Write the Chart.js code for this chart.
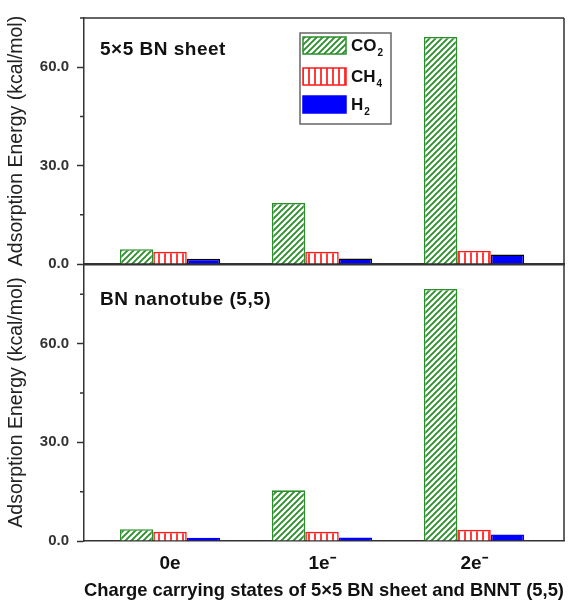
<!DOCTYPE html>
<html lang="en">
<head>
<meta charset="UTF-8">
<title>Adsorption energy vs charge state</title>
<style>
    body { margin: 0; background: #fff; }
    .wrap { position: relative; width: 569px; height: 606px; }
    .panel { position: absolute; left: 0; width: 569px; }
    #top { top: 0; height: 270px; }
    #bottom { top: 264px; height: 342px; }
</style>
</head>
<body>
<div class="wrap">
    <div class="panel" id="top"><canvas id="sheetChart"></canvas></div>
    <div class="panel" id="bottom"><canvas id="tubeChart"></canvas></div>
</div>
<script src="https://cdn.jsdelivr.net/npm/chart.js"></script>
<script>
// charge states on the x axis
const states = ['0e', '1e\u207B', '2e\u207B'];
// gas names, split into base + subscript
const gases = [['CO', '2'], ['CH', '4'], ['H', '2']];

// 5x5 BN sheet (kcal/mol)
const sheetCO2 = [4.5, 18.6, 69.2];
const sheetCH4 = [3.7, 3.7, 4.0];
const sheetH2  = [1.6, 1.7, 2.9];

// BN nanotube (5,5) (kcal/mol)
const tubeCO2 = [3.6, 15.4, 76.6];
const tubeCH4 = [2.8, 2.8, 3.4];
const tubeH2  = [1.0, 1.1, 2.0];

const majorTicks = [0, 30, 60];
const minorTicks = [15, 45, 75];

const FONT = '"Liberation Sans", Arial, sans-serif';
const GREEN = '#2b8f2b';
const RED = '#ff1a1a';
const BLUE = '#0000ff';
const AXIS = '#333';

function hatch(kind, color) {
    const c = document.createElement('canvas');
    const s = kind === 'diag' ? 6 : 6;
    c.width = s; c.height = s;
    const g = c.getContext('2d');
    g.fillStyle = '#fff';
    g.fillRect(0, 0, s, s);
    g.strokeStyle = color;
    g.lineWidth = kind === 'diag' ? 1.9 : 1.7;
    g.beginPath();
    if (kind === 'diag') {
        g.moveTo(-1, s + 1); g.lineTo(s + 1, -1);
        g.moveTo(-2, 2); g.lineTo(2, -2);
        g.moveTo(s - 2, s + 2); g.lineTo(s + 2, s - 2);
    } else {
        g.moveTo(s / 2, 0); g.lineTo(s / 2, s);
    }
    g.stroke();
    return g.createPattern(c, 'repeat');
}

const co2Fill = hatch('diag', GREEN);
const ch4Fill = hatch('vert', RED);

function points(values) {
    return values.map((v, i) => ({ x: i + 1, y: v }));
}

function gasDatasets(co2, ch4, h2, h2Border) {
    return [
        { label: 'CO2', data: points(co2), backgroundColor: co2Fill, borderColor: GREEN, borderWidth: 1.6 },
        { label: 'CH4', data: points(ch4), backgroundColor: ch4Fill, borderColor: RED, borderWidth: 1.6 },
        { label: 'H2', data: points(h2), backgroundColor: BLUE, borderColor: h2Border, borderWidth: 1.6 }
    ];
}

// frame, minor ticks, panel label and (optionally) the legend box
const panelPlugin = {
    id: 'panel',
    afterDraw(chart, args, opts) {
        const { ctx, chartArea: a, scales } = chart;
        ctx.save();
        ctx.strokeStyle = AXIS;
        ctx.lineWidth = 1.5;
        ctx.beginPath();
        if (opts.topLine) {
            ctx.moveTo(a.left, a.top);
            ctx.lineTo(a.right, a.top);
        }
        ctx.moveTo(a.right, a.top);
        ctx.lineTo(a.right, a.bottom);
        minorTicks.forEach(v => {
            if (v > scales.y.max) return;
            const py = scales.y.getPixelForValue(v);
            ctx.moveTo(a.left - 4, py);
            ctx.lineTo(a.left, py);
        });
        ctx.stroke();

        ctx.fillStyle = '#111';
        ctx.textBaseline = 'middle';
        ctx.font = 'bold 19px ' + FONT;
        ctx.letterSpacing = '0.5px';
        ctx.fillText(opts.label, a.left + 16, a.top + opts.labelY);
        ctx.letterSpacing = '0px';

        if (opts.legend) {
            const lx = 300, ly = 33;
            ctx.strokeStyle = '#666';
            ctx.lineWidth = 1.5;
            ctx.strokeRect(lx, ly, 91, 91);
            const rowTops = [37, 68, 96];
            chart.data.datasets.forEach((ds, i) => {
                const y = rowTops[i];
                ctx.fillStyle = ds.backgroundColor;
                ctx.fillRect(lx + 3, y, 43, 17);
                ctx.strokeStyle = ds.borderColor === '#000' ? BLUE : ds.borderColor;
                ctx.lineWidth = 1.5;
                ctx.strokeRect(lx + 3, y, 43, 17);
                ctx.fillStyle = '#111';
                ctx.textBaseline = 'middle';
                ctx.font = 'bold 17px ' + FONT;
                const base = gases[i][0];
                ctx.fillText(base, lx + 51, y + 9);
                const w = ctx.measureText(base).width;
                ctx.font = 'bold 10px ' + FONT;
                ctx.fillText(gases[i][1], lx + 52 + w, y + 16);
            });
        }
        ctx.restore();
    }
};

function makeScales(yMax, showX) {
    return {
        x: {
            type: 'linear',
            min: 0.434,
            max: 3.592,
            offset: false,
            grid: { display: false, drawTicks: false },
            border: { display: true, color: AXIS, width: showX ? 1.5 : 2.5 },
            afterBuildTicks: s => { s.ticks = states.map((_, i) => ({ value: i + 1 })); },
            ticks: {
                display: showX,
                autoSkip: false,
                maxRotation: 0,
                padding: 11,
                color: '#111',
                font: { family: FONT, size: 19, weight: 'bold' },
                callback: (v, i) => states[i]
            },
            title: {
                display: showX,
                text: 'Charge carrying states of 5\u00D75 BN sheet and BNNT (5,5)',
                color: '#111',
                font: { family: FONT, size: 18.5, weight: 'bold' },
                padding: { top: 0, bottom: 4 }
            },
            afterFit: s => { s.height = showX ? 65 : 0; s.paddingLeft = 0; s.paddingRight = 0; }
        },
        y: {
            min: 0,
            max: yMax,
            afterBuildTicks: s => { s.ticks = majorTicks.map(v => ({ value: v })); },
            ticks: {
                padding: 8,
                color: AXIS,
                font: { family: FONT, size: 15, weight: 'bold' },
                callback: v => v.toFixed(1)
            },
            grid: { display: true, drawOnChartArea: false, drawTicks: true, tickLength: 7, tickWidth: 1.5, tickColor: AXIS },
            border: { color: AXIS, width: 1.5 },
            title: {
                display: true,
                text: 'Adsorption Energy (kcal/mol)',
                color: '#222',
                font: { family: FONT, size: 19.5 },
                padding: { top: 5, bottom: 0 }
            },
            afterFit: s => { s.width = 84; s.paddingTop = 0; s.paddingBottom = 0; }
        }
    };
}

function makeChart(id, datasets, yMax, showX, padding, panelOpts) {
    return new Chart(document.getElementById(id), {
        type: 'bar',
        data: { datasets: datasets },
        options: {
            responsive: true,
            maintainAspectRatio: false,
            animation: false,
            layout: { padding: padding },
            datasets: { bar: { categoryPercentage: 0.66, barPercentage: 1 } },
            plugins: {
                legend: { display: false },
                tooltip: { enabled: false },
                panel: panelOpts
            },
            scales: makeScales(yMax, showX)
        },
        plugins: [panelPlugin]
    });
}

makeChart('sheetChart', gasDatasets(sheetCO2, sheetCH4, sheetH2, '#000'), 75, false,
    { top: 18, right: 5, bottom: 6, left: 0 },
    { topLine: true, label: '5\u00D75 BN sheet', labelY: 32, legend: true });

makeChart('tubeChart', gasDatasets(tubeCO2, tubeCH4, tubeH2, BLUE), 84.2, true,
    { top: 0, right: 5, bottom: 0, left: 0 },
    { topLine: false, label: 'BN nanotube (5,5)', labelY: 36, legend: false });
</script>
</body>
</html>
